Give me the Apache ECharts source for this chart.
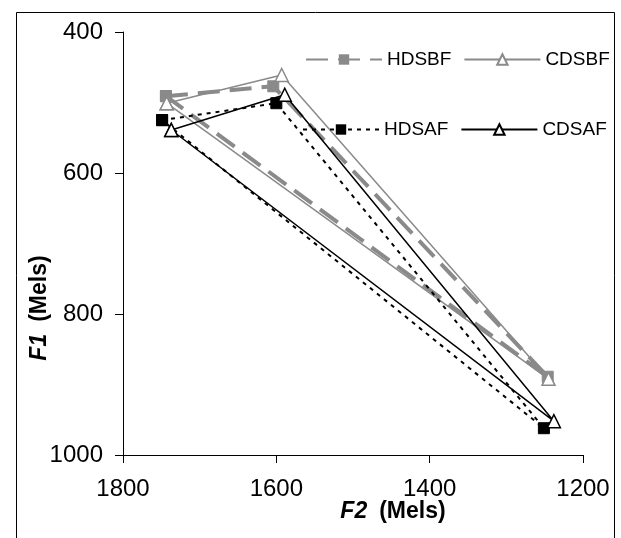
<!DOCTYPE html>
<html>
<head>
<meta charset="utf-8">
<script src="https://cdn.jsdelivr.net/npm/echarts@6/dist/echarts.min.js"></script>
<style>
html,body{margin:0;padding:0;background:#fff;}
#chart{width:621px;height:538px;}
</style>
</head>
<body>
<div id="chart"></div>
<script>
// Data (F2 = x, F1 = y), three vowel points per series, triangle closed
const seriesNames = ['HDSBF', 'CDSBF', 'HDSAF', 'CDSAF'];
const hdsbfF2 = [1744, 1604, 1246];
const hdsbfF1 = [491, 477, 889];
const cdsbfF2 = [1743, 1593, 1245];
const cdsbfF1 = [501, 461, 892];
const hdsafF2 = [1749, 1600, 1251];
const hdsafF1 = [525, 501, 962];
const cdsafF2 = [1737, 1589, 1238];
const cdsafF1 = [539, 489, 952];
const xTicks = [1200, 1400, 1600, 1800];
const yTicks = [400, 600, 800, 1000];

function closed(xs, ys) {
  const pts = xs.map((x, i) => [x, ys[i]]);
  pts.push(pts[0].slice());
  return pts;
}

const gray = '#8a8a8a';
const chart = echarts.init(document.getElementById('chart'), null, {renderer: 'canvas'});
const font = 'Liberation Sans, Arial, sans-serif';

const legendCommon = {
  orient: 'horizontal', width: 330, padding: 0,
  itemWidth: 76, itemHeight: 13, itemGap: 12,
  textStyle: {fontSize: 19, fontFamily: font, color: '#000'}
};

const option = {
  animation: false,
  backgroundColor: '#fff',
  grid: {left: 123, right: 38, top: 32, bottom: 83, containLabel: false},
  xAxis: {
    type: 'value', inverse: true,
    min: xTicks[0], max: xTicks[xTicks.length - 1], interval: 200,
    axisLine: {show: true, onZero: false, lineStyle: {color: '#000', width: 1}},
    axisTick: {show: true, inside: false, length: 8, lineStyle: {color: '#000'}},
    axisLabel: {color: '#000', fontSize: 24, fontFamily: font, margin: 22, formatter: v => String(v)},
    splitLine: {show: false}
  },
  yAxis: {
    type: 'value', inverse: true,
    min: yTicks[0], max: yTicks[yTicks.length - 1], interval: 200,
    axisLine: {show: true, onZero: false, lineStyle: {color: '#000', width: 1}},
    axisTick: {show: true, inside: false, length: 8, lineStyle: {color: '#000'}},
    axisLabel: {color: '#000', fontSize: 24, fontFamily: font, margin: 20, formatter: v => String(v)},
    splitLine: {show: false}
  },
  legend: [
    Object.assign({data: [seriesNames[0], seriesNames[1]], left: 305, top: 50}, legendCommon),
    Object.assign({data: [seriesNames[2], seriesNames[3]], left: 302, top: 120}, legendCommon)
  ],
  series: [
    {
      name: seriesNames[0], type: 'line', data: closed(hdsbfF2, hdsbfF1),
      symbol: 'rect', symbolSize: 11,
      lineStyle: {color: gray, width: 4, type: [22, 10]},
      itemStyle: {color: gray, borderColor: gray}
    },
    {
      name: seriesNames[1], type: 'line', data: closed(cdsbfF2, cdsbfF1),
      symbol: 'triangle', symbolSize: 13,
      lineStyle: {color: gray, width: 1.5, type: 'solid'},
      itemStyle: {color: '#fff', borderColor: gray, borderWidth: 1.5}
    },
    {
      name: seriesNames[2], type: 'line', data: closed(hdsafF2, hdsafF1),
      symbol: 'rect', symbolSize: 11,
      lineStyle: {color: '#000', width: 2, type: [4, 5]},
      itemStyle: {color: '#000', borderColor: '#000'}
    },
    {
      name: seriesNames[3], type: 'line', data: closed(cdsafF2, cdsafF1),
      symbol: 'triangle', symbolSize: 13,
      lineStyle: {color: '#000', width: 1.5, type: 'solid'},
      itemStyle: {color: '#fff', borderColor: '#000', borderWidth: 1.5}
    }
  ],
  graphic: [
    {
      type: 'rect', left: 14, top: 10, z: 0, silent: true,
      shape: {width: 598, height: 540},
      style: {fill: 'none', stroke: '#000', lineWidth: 1}
    },
    {
      type: 'text', x: 393, y: 512, z: 10,
      style: {
        text: '{i|F2}{s| }{b|(Mels)}', align: 'center', verticalAlign: 'middle',
        rich: {
          i: {fontSize: 23, fontWeight: 'bold', fontStyle: 'italic', fontFamily: font, fill: '#000'},
          s: {fontSize: 23, width: 12},
          b: {fontSize: 23, fontWeight: 'bold', fontFamily: font, fill: '#000'}
        }
      }
    },
    {
      type: 'text', x: 40, y: 308, rotation: Math.PI / 2, z: 10,
      style: {
        text: '{i|F1}{s| }{b|(Mels)}', align: 'center', verticalAlign: 'middle',
        rich: {
          i: {fontSize: 23, fontWeight: 'bold', fontStyle: 'italic', fontFamily: font, fill: '#000'},
          s: {fontSize: 23, width: 12},
          b: {fontSize: 23, fontWeight: 'bold', fontFamily: font, fill: '#000'}
        }
      }
    }
  ]
};
chart.setOption(option);
</script>
</body>
</html>
